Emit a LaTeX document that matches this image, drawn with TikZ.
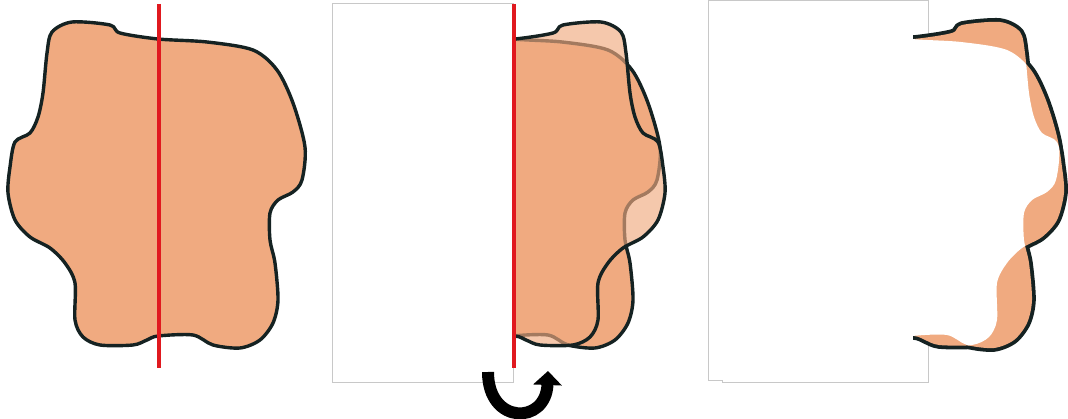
\documentclass[tikz,border=0pt]{standalone}
\usepackage{tikz}
\usetikzlibrary{arrows.meta}
\definecolor{skin}{HTML}{F0AA80}
\definecolor{edge}{HTML}{152222}
\definecolor{cutred}{HTML}{E0191F}
\definecolor{sheetgray}{HTML}{C8C8C8}
\newcommand{\blobpath}{plot[smooth cycle, tension=0.5] coordinates {
  (52,32) (72,22) (110,25) (120,33) (158,39) (207,42) (253,50) (277,70)
  (293,103) (305,147) (302,180) (293,192) (278,200) (270,213) (270,240)
  (275,263) (278,300) (273,323) (260,340) (240,348) (213,345) (193,335)
  (158,336) (147,340) (133,345) (100,345) (83,337) (75,320) (75,283)
  (65,263) (50,248) (30,237) (15,220) (8,193) (10,167) (15,142) (30,133)
  (38,117) (43,93) (47,53)}}

\begin{document}
\begin{tikzpicture}[x=0.025cm, y=-0.025cm,
    blob/.style={fill=skin, draw=edge, line width=0.85mm, line join=round},
    ghost/.style={fill=skin, fill opacity=0.65, draw=edge, line width=0.85mm,
      line join=round},
    rim/.style={draw=edge, line width=1.9mm, line join=round},
    axis/.style={draw=cutred, line width=0.8mm},
    sheet/.style={draw=sheetgray, fill=white, line width=0.25mm},
    flip/.style={line width=3mm, -{Triangle[length=3.5mm, width=7mm]}}]
  \useasboundingbox (0,0) rectangle (1068,419);
  % original outline with its symmetry axis
  \draw[blob] \blobpath;
  \draw[axis] (159,4) -- (159,368);
  % left half hidden, right half overlaid with its mirror image
  \draw[sheet] (332,4) rectangle (513,383);
  \begin{scope}
    \clip (514,0) rectangle (700,419);
    \draw[blob, shift={(355,0)}] \blobpath;
    \draw[ghost, shift={(673,0)}, xscale=-1] \blobpath;
  \end{scope}
  \draw[axis] (514,4) -- (514,368);
  \coordinate (flipstart) at (488,372);
  \coordinate (flipend) at (548,371);
  \draw[flip] (flipstart) .. controls (488,425) and (546,425) .. (flipend);
  % what is left once the overlap is taken away
  \draw[sheet] (708,1) -- (708,381) -- (722,381) -- (722,383) -- (928,383)
    -- (928,1) -- cycle;
  \begin{scope}
    \clip (913,0) rectangle (1068,419);
    \draw[rim, shift={(754,0)}] \blobpath;
    \draw[rim, shift={(1072,0)}, xscale=-1] \blobpath;
    \fill[skin, shift={(754,0)}] \blobpath;
    \fill[skin, shift={(1072,0)}, xscale=-1] \blobpath;
    \clip[shift={(754,0)}] \blobpath;
    \fill[white, shift={(1072,0)}, xscale=-1] \blobpath;
  \end{scope}
\end{tikzpicture}
\end{document}
